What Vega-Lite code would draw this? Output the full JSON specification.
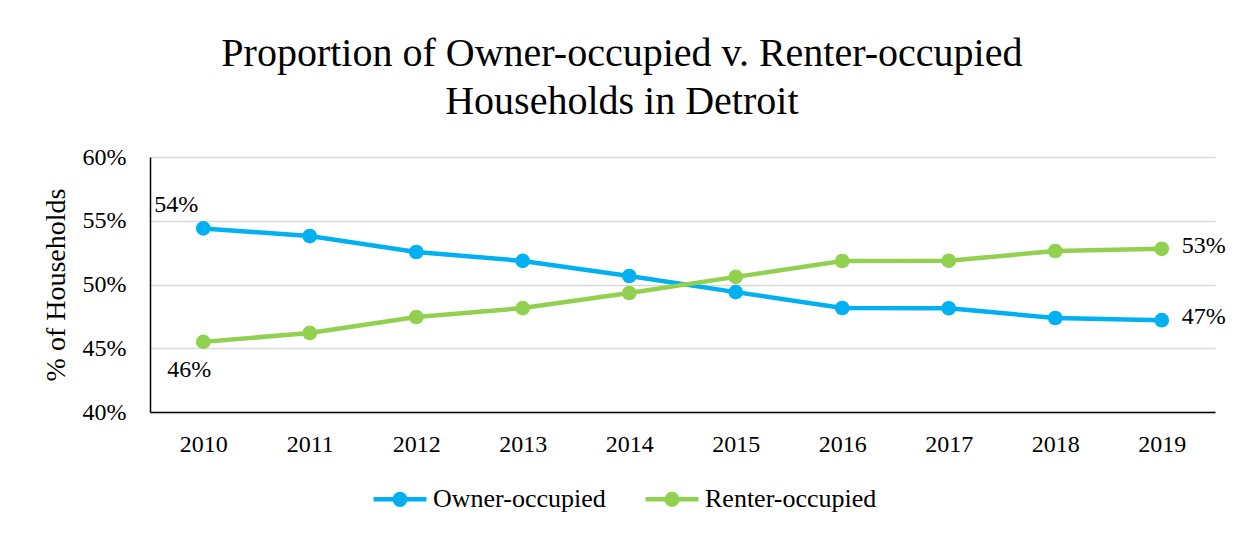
{
  "$schema": "https://vega.github.io/schema/vega-lite/v6.json",
  "width": 1065,
  "height": 255,
  "padding": {"left": 42, "top": 34, "right": 10, "bottom": 10},
  "background": "white",
  "config": {
    "font": "Liberation Serif",
    "view": {"stroke": null}
  },
  "title": {
    "text": ["Proportion of Owner-occupied v. Renter-occupied", "Households in Detroit"],
    "fontSize": 40,
    "font": "Liberation Serif",
    "fontWeight": "normal",
    "color": "black",
    "anchor": "middle",
    "frame": "bounds",
    "dx": -12,
    "offset": 23,
    "lineHeight": 48
  },
  "data": {
    "values": [
      {"year": "2010", "tenure": "Owner-occupied", "share": 0.544},
      {"year": "2011", "tenure": "Owner-occupied", "share": 0.538},
      {"year": "2012", "tenure": "Owner-occupied", "share": 0.5255},
      {"year": "2013", "tenure": "Owner-occupied", "share": 0.5185},
      {"year": "2014", "tenure": "Owner-occupied", "share": 0.5067},
      {"year": "2015", "tenure": "Owner-occupied", "share": 0.494},
      {"year": "2016", "tenure": "Owner-occupied", "share": 0.4816},
      {"year": "2017", "tenure": "Owner-occupied", "share": 0.4814},
      {"year": "2018", "tenure": "Owner-occupied", "share": 0.4737},
      {"year": "2019", "tenure": "Owner-occupied", "share": 0.472},
      {"year": "2010", "tenure": "Renter-occupied", "share": 0.455},
      {"year": "2011", "tenure": "Renter-occupied", "share": 0.462},
      {"year": "2012", "tenure": "Renter-occupied", "share": 0.4745},
      {"year": "2013", "tenure": "Renter-occupied", "share": 0.4815},
      {"year": "2014", "tenure": "Renter-occupied", "share": 0.4933},
      {"year": "2015", "tenure": "Renter-occupied", "share": 0.506},
      {"year": "2016", "tenure": "Renter-occupied", "share": 0.5184},
      {"year": "2017", "tenure": "Renter-occupied", "share": 0.5186},
      {"year": "2018", "tenure": "Renter-occupied", "share": 0.5263},
      {"year": "2019", "tenure": "Renter-occupied", "share": 0.528}
    ]
  },
  "encoding": {
    "x": {
      "field": "year",
      "type": "ordinal",
      "title": null,
      "axis": {
        "labelAngle": 0,
        "labelFontSize": 24,
        "labelColor": "black",
        "labelPadding": 20,
        "ticks": false,
        "domainColor": "black",
        "domainWidth": 1.5,
        "grid": false
      }
    },
    "y": {
      "field": "share",
      "type": "quantitative",
      "scale": {"domain": [0.4, 0.6], "nice": false, "zero": false},
      "title": "% of Households",
      "axis": {
        "format": ".0%",
        "values": [0.4, 0.45, 0.5, 0.55, 0.6],
        "labelFontSize": 24,
        "labelColor": "black",
        "labelPadding": 24,
        "ticks": false,
        "domainColor": "black",
        "domainWidth": 1.5,
        "gridColor": "#D9D9D9",
        "gridWidth": 1.5,
        "titleFontSize": 28,
        "titleFontWeight": "normal",
        "titleColor": "black",
        "titlePadding": 12
      }
    },
    "color": {
      "field": "tenure",
      "type": "nominal",
      "scale": {"domain": ["Owner-occupied", "Renter-occupied"], "range": ["#00B0F0", "#92D050"]},
      "legend": {
        "title": null,
        "orient": "none",
        "legendX": 221,
        "legendY": 313,
        "direction": "horizontal",
        "labelFontSize": 26,
        "labelLimit": 0,
        "labelColor": "black",
        "symbolType": "M -1 0 L 1 0 M -0.2 0 A 0.2 0.2 0 1 1 0.2 0 A 0.2 0.2 0 1 1 -0.2 0",
        "symbolSize": 2800,
        "symbolStrokeWidth": 4.5,
        "labelOffset": 4,
        "columnPadding": 30
      }
    }
  },
  "layer": [
    {"mark": {"type": "line", "strokeWidth": 4.5}},
    {"mark": {"type": "point", "filled": true, "size": 215, "opacity": 1}},
    {
      "transform": [{"filter": "datum.year == '2010' && datum.tenure == 'Owner-occupied'"}],
      "mark": {"type": "text", "fontSize": 24, "color": "black", "dx": -27, "dy": -23},
      "encoding": {"text": {"field": "share", "type": "quantitative", "format": ".0%"}, "color": {"value": "black"}}
    },
    {
      "transform": [{"filter": "datum.year == '2010' && datum.tenure == 'Renter-occupied'"}],
      "mark": {"type": "text", "fontSize": 24, "color": "black", "dx": -14, "dy": 28},
      "encoding": {"text": {"field": "share", "type": "quantitative", "format": ".0%"}, "color": {"value": "black"}}
    },
    {
      "transform": [{"filter": "datum.year == '2019'"}],
      "mark": {"type": "text", "fontSize": 24, "color": "black", "align": "left", "dx": 20, "dy": -3},
      "encoding": {"text": {"field": "share", "type": "quantitative", "format": ".0%"}, "color": {"value": "black"}}
    }
  ]
}
